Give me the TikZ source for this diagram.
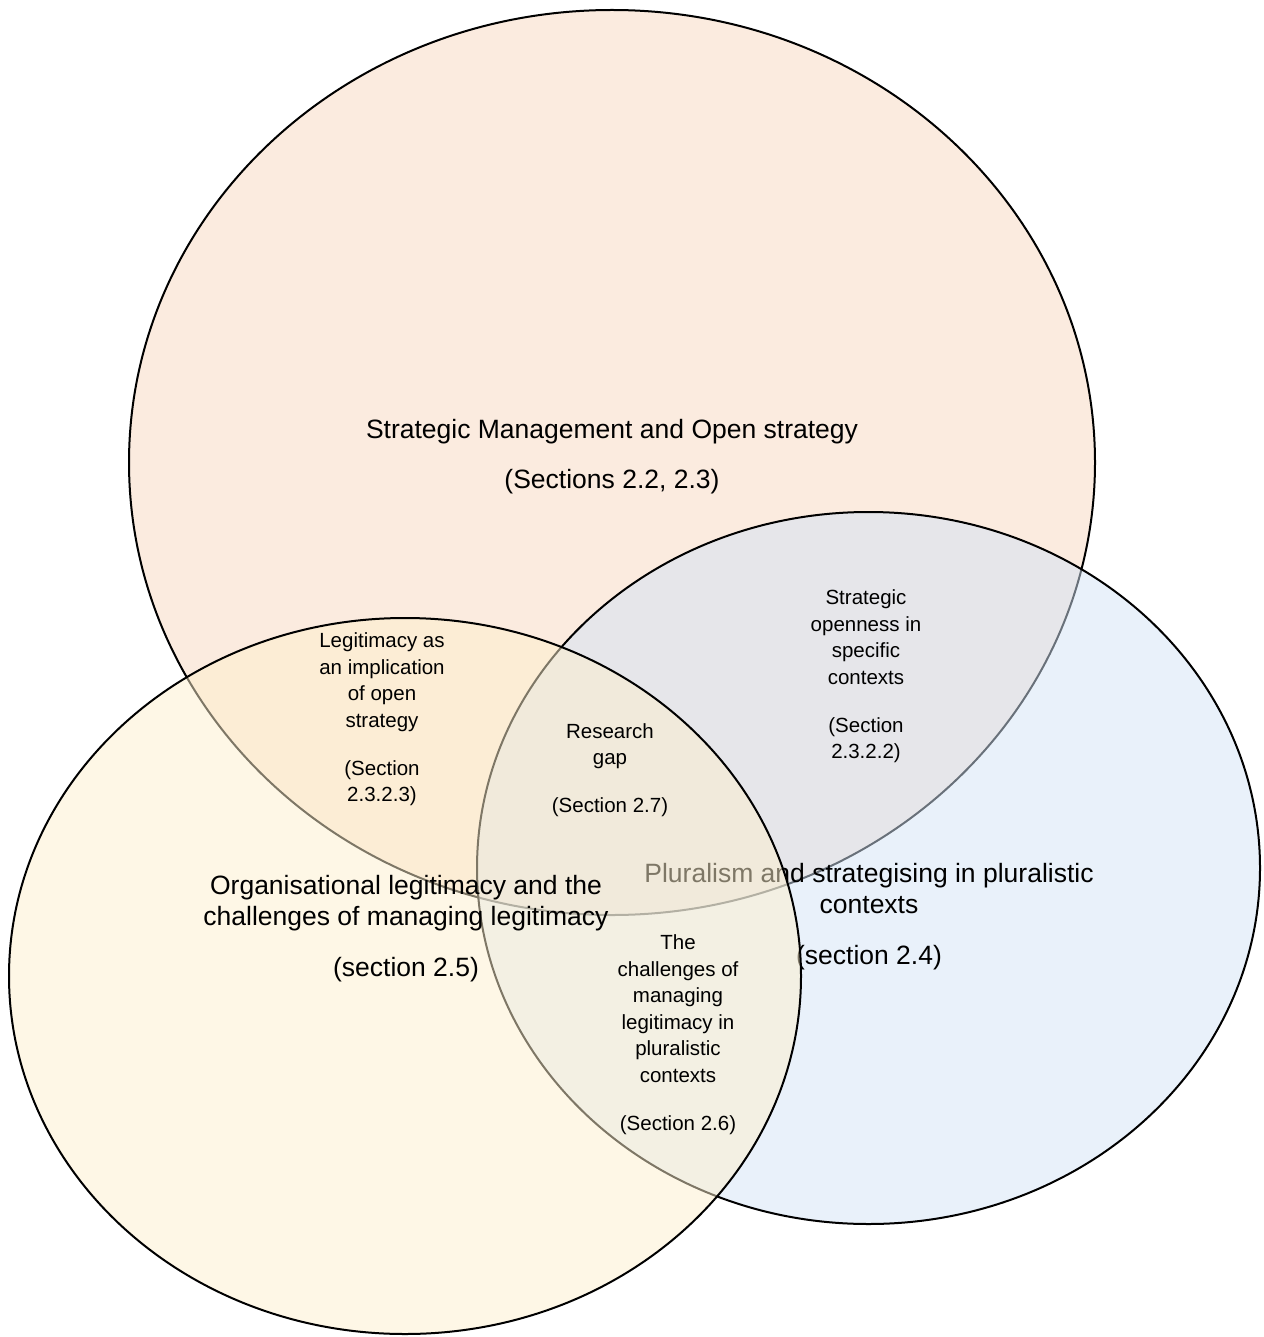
\documentclass[tikz,border=0pt]{standalone}
\usepackage{fontspec}
\setmainfont{Liberation Sans}
\definecolor{orangeF}{RGB}{251,235,223}
\definecolor{blueF}{RGB}{211,227,245}
\definecolor{yellowF}{RGB}{253,239,205}
\tikzset{
  venn/.style={draw=black, line width=2pt},
  big/.style={font=\fontsize{26.5}{31}\selectfont, align=center, inner sep=0pt, anchor=north, execute at begin node=\strut},
  small/.style={font=\fontsize{20.5}{26.5}\selectfont, align=center, inner sep=0pt, anchor=north, execute at begin node=\strut}
}
\begin{document}
\begin{tikzpicture}[x=1pt,y=-1pt]
\useasboundingbox (0,0) rectangle (1263,1337);
% top ellipse
\coordinate (cT) at (612,462.5);
\draw[venn, fill=orangeF] (cT) ellipse [x radius=483pt, y radius=452.5pt];
\node[big] (tSM) at (612,419) {Strategic Management and Open strategy\\[19pt](Sections 2.2, 2.3)};
% right ellipse
\coordinate (cR) at (868.5,868);
\draw[venn, fill=blueF, fill opacity=0.5] (cR) ellipse [x radius=391.5pt, y radius=356pt];
\node[big] (tPL) at (869,863.5) {Pluralism and strategising in pluralistic\\contexts\\[20pt](section 2.4)};
% left ellipse
\coordinate (cL) at (405,976);
\draw[venn, fill=yellowF, fill opacity=0.5] (cL) ellipse [x radius=396pt, y radius=358pt];
\node[big] (tOL) at (406,875) {Organisational legitimacy and the\\challenges of managing legitimacy\\[20pt](section 2.5)};
% intersection labels
\node[small] (tSO) at (866,589.5) {Strategic\\openness in\\specific\\contexts\\[21.5pt](Section\\2.3.2.2)};
\node[small] (tLI) at (382,632.5) {Legitimacy as\\an implication\\of open\\strategy\\[21.5pt](Section\\2.3.2.3)};
\node[small] (tRG) at (610,723) {Research\\gap\\[21.5pt](Section 2.7)};
\node[small] (tCH) at (678,934.5) {The\\challenges of\\managing\\legitimacy in\\pluralistic\\contexts\\[21.5pt](Section 2.6)};
\end{tikzpicture}
\end{document}
